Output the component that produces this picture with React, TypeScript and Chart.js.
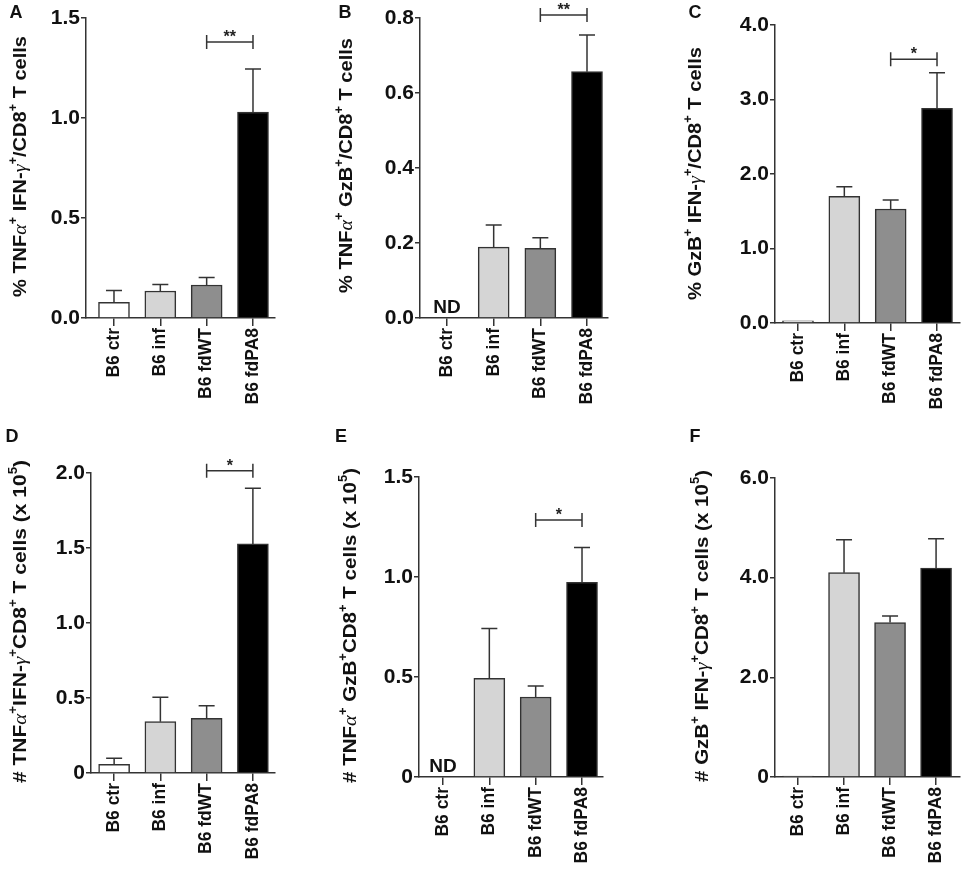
import { useEffect, useRef } from "react";
import { Chart, registerables } from "chart.js";

Chart.register(...registerables);

const groups = ["B6 ctr", "B6 inf", "B6 fdWT", "B6 fdPA8"];
const barColors = ["#ffffff", "#d5d5d5", "#8e8e8e", "#000000"];

// mean and upper SEM per group (null = not detected)
const meanA = [0.078, 0.135, 0.165, 1.03];
const semA = [0.06, 0.033, 0.038, 0.215];
const meanB = [null, 0.189, 0.186, 0.657];
const semB = [0, 0.059, 0.028, 0.098];
const meanC = [0.03, 1.7, 1.53, 2.88];
const semC = [0, 0.13, 0.12, 0.48];
const meanD = [0.058, 0.342, 0.365, 1.527];
const semD = [0.04, 0.163, 0.084, 0.371];
const meanE = [null, 0.493, 0.4, 0.973];
const semE = [0, 0.25, 0.055, 0.175];
const meanF = [0.02, 4.1, 3.1, 4.19];
const semF = [0, 0.66, 0.13, 0.59];

// significance brackets between B6 fdWT and B6 fdPA8
const sigA = { y: 1.38, text: "**" };
const sigB = { y: 0.808, text: "**" };
const sigC = { y: 3.54, text: "*" };
const sigD = { y: 2.015, text: "*" };
const sigE = { y: 1.285, text: "*" };

type Seg = { t: string; sup?: boolean; greek?: boolean };
const s = (t: string): Seg => ({ t });
const sup = (t: string): Seg => ({ t, sup: true });
const gr = (t: string): Seg => ({ t, greek: true });

const titleA = [s("% TNF"), gr("α"), sup("+"), s(" IFN-"), gr("γ"), sup("+"), s("/CD8"), sup("+"), s(" T cells")];
const titleB = [s("% TNF"), gr("α"), sup("+"), s(" GzB"), sup("+"), s("/CD8"), sup("+"), s(" T cells")];
const titleC = [s("% GzB"), sup("+"), s(" IFN-"), gr("γ"), sup("+"), s("/CD8"), sup("+"), s(" T cells")];
const titleD = [s("# TNF"), gr("α"), sup("+"), s("IFN-"), gr("γ"), sup("+"), s("CD8"), sup("+"), s(" T cells (x 10"), sup("5"), s(")")];
const titleE = [s("# TNF"), gr("α"), sup("+"), s(" GzB"), sup("+"), s("CD8"), sup("+"), s(" T cells (x 10"), sup("5"), s(")")];
const titleF = [s("# GzB"), sup("+"), s(" IFN-"), gr("γ"), sup("+"), s("CD8"), sup("+"), s(" T cells (x 10"), sup("5"), s(")")];

interface Panel {
  letter: string;
  letterPos: [number, number];
  box: [number, number, number, number];
  area: [number, number, number, number];
  xRange: [number, number];
  yMax: number;
  yStep: number;
  intZero: boolean;
  mean: (number | null)[];
  sem: number[];
  sig: { y: number; text: string } | null;
  nd: boolean;
  title: Seg[];
  titlePos: [number, number, number]; // baseline x, y start (top), y end (bottom)
}

const panels: Panel[] = [
  { letter: "A", letterPos: [16, 13], box: [0, 0, 320, 425], area: [86, 18, 275, 318], xRange: [-0.604, 3.475],
    yMax: 1.5, yStep: 0.5, intZero: false, mean: meanA, sem: semA, sig: sigA, nd: false, title: titleA, titlePos: [26, 36, 297] },
  { letter: "B", letterPos: [345, 13], box: [320, 0, 320, 425], area: [420, 18, 608, 318], xRange: [-0.579, 3.45],
    yMax: 0.8, yStep: 0.2, intZero: false, mean: meanB, sem: semB, sig: sigB, nd: true, title: titleB, titlePos: [352, 38, 293] },
  { letter: "C", letterPos: [695, 13], box: [640, 0, 325, 425], area: [775, 25, 960, 323], xRange: [-0.496, 3.496],
    yMax: 4, yStep: 1, intZero: false, mean: meanC, sem: semC, sig: sigC, nd: false, title: titleC, titlePos: [701, 47, 300] },
  { letter: "D", letterPos: [12, 437], box: [0, 425, 320, 446], area: [91, 473, 275, 773], xRange: [-0.5, 3.478],
    yMax: 2, yStep: 0.5, intZero: true, mean: meanD, sem: semD, sig: sigD, nd: false, title: titleD, titlePos: [26, 460, 783] },
  { letter: "E", letterPos: [341, 437], box: [320, 425, 320, 446], area: [419, 477, 603, 777], xRange: [-0.518, 3.453],
    yMax: 1.5, yStep: 0.5, intZero: true, mean: meanE, sem: semE, sig: sigE, nd: true, title: titleE, titlePos: [356, 468, 783] },
  { letter: "F", letterPos: [695, 437], box: [640, 425, 325, 446], area: [775, 478, 960, 777], xRange: [-0.5, 3.52],
    yMax: 6, yStep: 2, intZero: true, mean: meanF, sem: semF, sig: null, nd: false, title: titleF, titlePos: [708, 470, 782] },
];

const INK = "#333333";
const SANS = '"Liberation Sans", Arial, sans-serif';

function drawTitle(ctx: CanvasRenderingContext2D, segs: Seg[], bx: number, y0: number, y1: number) {
  const size = 19;
  const fontFor = (g: Seg) =>
    g.greek ? `italic ${size}px "Liberation Serif", serif` : g.sup ? `bold ${Math.round(size * 0.62)}px ${SANS}` : `bold ${size}px ${SANS}`;
  let w = 0;
  for (const g of segs) {
    ctx.font = fontFor(g);
    w += ctx.measureText(g.t).width;
  }
  const len = y1 - y0;
  ctx.save();
  ctx.translate(bx, (y0 + y1) / 2);
  ctx.rotate(-Math.PI / 2);
  ctx.scale(len / w, 1);
  ctx.fillStyle = "#111";
  ctx.textBaseline = "alphabetic";
  ctx.textAlign = "left";
  let x = -w / 2;
  for (const g of segs) {
    ctx.font = fontFor(g);
    ctx.fillText(g.t, x, g.sup ? -size * 0.45 : 0);
    x += ctx.measureText(g.t).width;
  }
  ctx.restore();
}

function PanelChart({ p }: { p: Panel }) {
  const ref = useRef<HTMLCanvasElement | null>(null);
  const [bl, bt, bw, bh] = p.box;

  useEffect(() => {
    if (!ref.current) return;
    const [al, at, ar, ab] = p.area;
    const yW = 60;
    const xH = 90;

    const extras = {
      id: "extras",
      afterDatasetsDraw(chart: any) {
        const ctx: CanvasRenderingContext2D = chart.ctx;
        const xs = chart.scales.x;
        const ys = chart.scales.y;
        ctx.save();
        ctx.strokeStyle = INK;
        ctx.lineWidth = 1.5;
        p.mean.forEach((m, i) => {
          if (m == null || !p.sem[i]) return;
          const x = xs.getPixelForValue(i);
          const ya = ys.getPixelForValue(m);
          const yb = ys.getPixelForValue(m + p.sem[i]);
          ctx.beginPath();
          ctx.moveTo(x, ya);
          ctx.lineTo(x, yb);
          ctx.moveTo(x - 8, yb);
          ctx.lineTo(x + 8, yb);
          ctx.stroke();
        });
        if (p.sig) {
          const x1 = xs.getPixelForValue(2);
          const x2 = xs.getPixelForValue(3);
          const y = ys.getPixelForValue(p.sig.y);
          ctx.beginPath();
          ctx.moveTo(x1, y);
          ctx.lineTo(x2, y);
          ctx.moveTo(x1, y - 7);
          ctx.lineTo(x1, y + 7);
          ctx.moveTo(x2, y - 7);
          ctx.lineTo(x2, y + 7);
          ctx.stroke();
          ctx.fillStyle = "#222";
          ctx.font = `bold 16px ${SANS}`;
          ctx.textAlign = "center";
          ctx.textBaseline = "alphabetic";
          ctx.fillText(p.sig.text, (x1 + x2) / 2, y);
        }
        if (p.nd) {
          ctx.fillStyle = "#111";
          ctx.font = `bold 19px ${SANS}`;
          ctx.textAlign = "center";
          ctx.textBaseline = "alphabetic";
          ctx.fillText("ND", xs.getPixelForValue(0), ys.getPixelForValue(0) - 5);
        }
        ctx.restore();
      },
      afterDraw(chart: any) {
        const ctx: CanvasRenderingContext2D = chart.ctx;
        ctx.save();
        ctx.fillStyle = "#111";
        ctx.font = `bold 18px ${SANS}`;
        ctx.textAlign = "center";
        ctx.textBaseline = "middle";
        ctx.fillText(p.letter, p.letterPos[0] - bl, p.letterPos[1] - bt);
        ctx.restore();
        drawTitle(ctx, p.title, p.titlePos[0] - bl, p.titlePos[1] - bt, p.titlePos[2] - bt);
      },
    };

    const chart = new Chart(ref.current, {
      type: "bar",
      data: {
        datasets: [
          {
            data: p.mean.map((v, i) => ({ x: i, y: v })) as any,
            backgroundColor: barColors,
            borderColor: INK,
            borderWidth: 1.5,
            barThickness: 31,
          },
        ],
      },
      options: {
        animation: false,
        responsive: false,
        layout: {
          padding: { left: al - bl - yW, top: at - bt, right: bl + bw - ar, bottom: bt + bh - ab - xH },
        },
        plugins: { legend: { display: false }, tooltip: { enabled: false } },
        scales: {
          x: {
            type: "linear",
            min: p.xRange[0],
            max: p.xRange[1],
            offset: false,
            afterBuildTicks: (sc: any) => {
              sc.ticks = groups.map((_, i) => ({ value: i }));
            },
            afterFit: (sc: any) => {
              sc.height = xH;
            },
            grid: { offset: false, drawOnChartArea: false, tickLength: 8, color: INK, lineWidth: 1.5 },
            border: { color: INK, width: 1.5 },
            ticks: {
              autoSkip: false,
              minRotation: 90,
              maxRotation: 90,
              padding: 2,
              color: "#111",
              font: { family: SANS, size: 17.5, weight: "bold" },
              callback: (v: any) => groups[Number(v)] ?? "",
            },
          },
          y: {
            min: 0,
            max: p.yMax,
            afterFit: (sc: any) => {
              sc.width = yW;
            },
            grid: { drawOnChartArea: false, tickLength: 5, color: INK, lineWidth: 1.5 },
            border: { color: INK, width: 1.5 },
            ticks: {
              stepSize: p.yStep,
              padding: 1,
              color: "#111",
              font: { family: SANS, size: 21, weight: "bold" },
              callback: (v: any) => (Number(v) === 0 && p.intZero ? "0" : Number(v).toFixed(1)),
            },
          },
        },
      },
      plugins: [extras],
    } as any);

    return () => chart.destroy();
  }, [p]);

  return (
    <canvas
      ref={ref}
      width={bw}
      height={bh}
      style={{ position: "absolute", left: bl, top: bt, width: bw, height: bh }}
    />
  );
}

export default function App() {
  return (
    <div style={{ position: "absolute", left: 0, top: 0, width: 965, height: 871, background: "#fff", overflow: "hidden" }}>
      {panels.map((p) => (
        <PanelChart key={p.letter} p={p} />
      ))}
    </div>
  );
}
